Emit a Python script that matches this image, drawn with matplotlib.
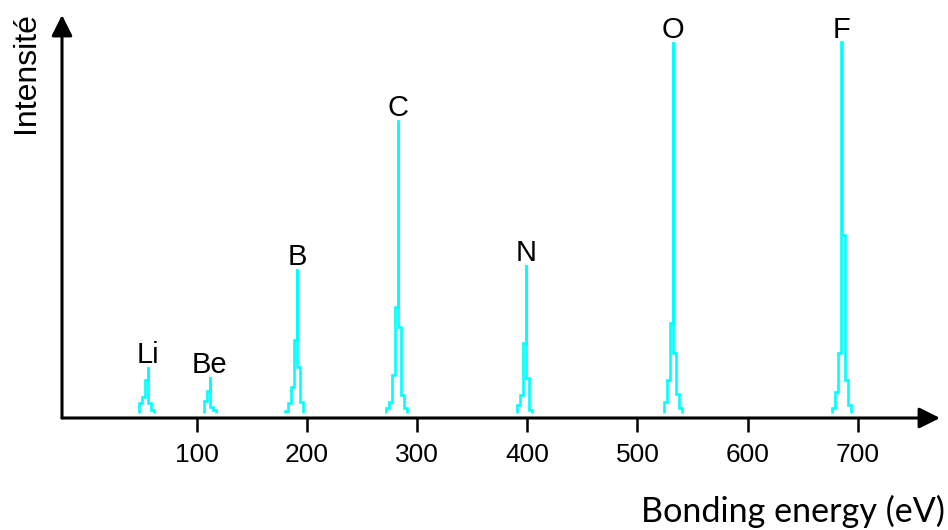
import numpy as np
import matplotlib
matplotlib.use("Agg")
import matplotlib.pyplot as plt
from matplotlib import font_manager

# ---------------- data ----------------
elements = ["Li", "Be", "B", "C", "N", "O", "F"]
centers = [56, 112, 191, 283, 399, 532, 685]          # eV, main spike position
bin_width = 2.7                                        # eV per step (side bins)
main_bin_width = 0.4                                   # eV (main spike)
profile_li = [15, 21, 38, 51, 15, 8]
profile_be = [17, 27, 41, 11, 8]
profile_b = [7, 15, 31, 78, 149, 51, 16]
profile_c = [10, 16, 43, 111, 298, 91, 23, 10]
profile_n = [13, 23, 75, 153, 40, 8]
profile_o = [16, 38, 95, 376, 65, 24, 10]
profile_f = [10, 26, 65, 376, 183, 38, 13]
profiles = [profile_li, profile_be, profile_b, profile_c, profile_n, profile_o, profile_f]
xticks = [100, 200, 300, 400, 500, 600, 700]
xtick_labels = ["100", "200", "300", "400", "500", "600", "700"]
xlabel = "Bonding energy (eV)"
ylabel = "Intensité"

# ---------------- fonts ----------------
names = {f.name for f in font_manager.fontManager.ttflist}
narrow = "Liberation Sans Narrow" if "Liberation Sans Narrow" in names else "Liberation Sans"

W, H = 948, 530
fig = plt.figure(figsize=(W / 100, H / 100), dpi=100)
ax = fig.add_axes([62 / W, 112 / H, 878 / W, 403 / H])
ax.set_xlim(-22.0, 774.4)
ax.set_ylim(0, 403)

cyan = "#00FFFF"
for name, c, prof in zip(elements, centers, profiles):
    prof = np.asarray(prof, dtype=float)
    k = int(np.argmax(prof))
    widths = np.full(len(prof), bin_width)
    widths[k] = main_bin_width
    edges = np.concatenate([[0], np.cumsum(widths)])
    edges = edges - (edges[k] + edges[k + 1]) / 2 + c
    ax.stairs(prof, edges, baseline=5, color=cyan, lw=1.9, fill=False)
    ax.annotate(name, (c, prof.max()), xytext=(0, 3), textcoords="offset points",
                ha="center", va="baseline", fontsize=21, family="Liberation Sans",
                color="black")

for s in ax.spines.values():
    s.set_visible(False)
ax.set_yticks([])
ax.set_xticks(xticks)
ax.set_xticklabels(xtick_labels, family=narrow, fontsize=19)
ax.tick_params(axis="x", direction="out", length=10, width=1.8, pad=8, color="black")

# axes with arrows
arrow_kw = dict(arrowstyle="-|>,head_length=0.9,head_width=0.45", lw=2.2,
                color="black", shrinkA=0, shrinkB=0, mutation_scale=14)
ax.annotate("", xy=(0, 1), xytext=(0, 0), xycoords="axes fraction",
            textcoords="axes fraction", arrowprops=arrow_kw, annotation_clip=False)
ax.annotate("", xy=(1, 0), xytext=(0, 0), xycoords="axes fraction",
            textcoords="axes fraction", arrowprops=arrow_kw, annotation_clip=False)

fig.text(945 / W, 8 / H, xlabel, ha="right", va="baseline", fontsize=24.6, family="Lato")
fig.text(26 / W, (H - 133) / H, ylabel, rotation=90, ha="center", va="bottom",
         fontsize=23, family="Liberation Sans")

fig.savefig("out.png", dpi=100)
